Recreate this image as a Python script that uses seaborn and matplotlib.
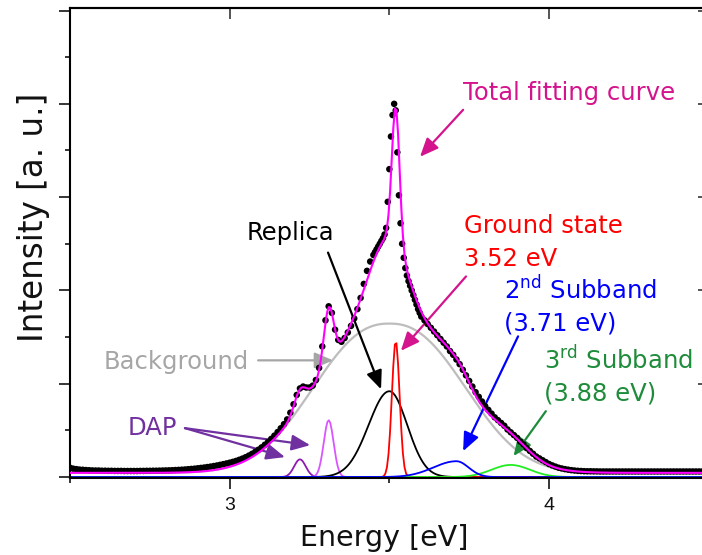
import numpy as np
import pandas as pd
import matplotlib
matplotlib.use("Agg")
import matplotlib.pyplot as plt
from matplotlib.ticker import MultipleLocator, NullFormatter
import seaborn as sns

# ---- measured PL spectrum -------------------------------------------------
data_energy = np.round(np.concatenate([np.arange(2.50, 3.4501, 0.01),
                                       np.arange(3.455, 3.6001, 0.005),
                                       np.arange(3.61, 4.5001, 0.01)]), 3)

data_intensity = [
    # 2.50 - 2.59
    0.100, 0.090, 0.085, 0.080, 0.078, 0.075, 0.073, 0.071, 0.070, 0.070,
    # 2.60 - 2.69
    0.068, 0.068, 0.067, 0.067, 0.066, 0.066, 0.066, 0.065, 0.065, 0.065,
    # 2.70 - 2.79
    0.065, 0.065, 0.066, 0.066, 0.067, 0.067, 0.068, 0.068, 0.069, 0.070,
    # 2.80 - 2.89
    0.071, 0.072, 0.073, 0.075, 0.077, 0.079, 0.081, 0.084, 0.087, 0.090,
    # 2.90 - 2.99
    0.094, 0.098, 0.102, 0.107, 0.112, 0.118, 0.124, 0.131, 0.138, 0.146,
    # 3.00 - 3.09
    0.154, 0.163, 0.173, 0.185, 0.198, 0.213, 0.230, 0.249, 0.270, 0.293,
    # 3.10 - 3.19
    0.318, 0.346, 0.376, 0.409, 0.444, 0.482, 0.523, 0.567, 0.618, 0.690,
    # 3.20 - 3.29
    0.78, 0.88, 0.95, 0.97, 0.96, 0.96, 0.98, 1.04, 1.17, 1.40,
    # 3.30 - 3.39
    1.68, 1.83, 1.76, 1.58, 1.47, 1.45, 1.49, 1.55, 1.62, 1.70,
    # 3.40 - 3.45
    1.80, 1.92, 2.07, 2.21, 2.31, 2.38,
    # 3.455 - 3.500
    2.41, 2.44, 2.47, 2.50, 2.53, 2.56, 2.60, 2.67, 2.95, 3.30,
    # 3.505 - 3.550
    3.65, 3.88, 4.00, 3.93, 3.48, 3.02, 2.72, 2.50, 2.35, 2.24,
    # 3.555 - 3.600
    2.16, 2.10, 2.05, 2.00, 1.95, 1.90, 1.85, 1.80, 1.76, 1.72,
    # 3.61 - 3.70
    1.68, 1.64, 1.60, 1.56, 1.52, 1.48, 1.44, 1.40, 1.35, 1.31,
    # 3.71 - 3.80
    1.26, 1.21, 1.15, 1.09, 1.03, 0.97, 0.91, 0.86, 0.81, 0.76,
    # 3.81 - 3.90
    0.72, 0.68, 0.64, 0.61, 0.58, 0.55, 0.51, 0.48, 0.45, 0.42,
    # 3.91 - 4.00
    0.38, 0.35, 0.31, 0.28, 0.25, 0.22, 0.20, 0.18, 0.16, 0.14,
    # 4.01 - 4.10
    0.125, 0.112, 0.100, 0.092, 0.085, 0.079, 0.074, 0.070, 0.067, 0.065,
    # 4.11 - 4.20
    0.063, 0.062, 0.062, 0.061, 0.061, 0.060, 0.060, 0.060, 0.060, 0.060,
    # 4.21 - 4.30
    0.060, 0.060, 0.060, 0.060, 0.060, 0.060, 0.060, 0.060, 0.060, 0.060,
    # 4.31 - 4.40
    0.060, 0.060, 0.060, 0.060, 0.060, 0.060, 0.060, 0.060, 0.060, 0.060,
    # 4.41 - 4.50
    0.060, 0.060, 0.060, 0.060, 0.060, 0.060, 0.060, 0.060, 0.060, 0.060,
]

# ---- fit model: flat-topped background + gaussian peaks -------------------
bg_offset = 0.045
bg_center = 3.50
bg_height = 1.60
bg_width = 0.305
bg_power = 2.35

peak_names = ["DAP 1", "DAP 2", "Replica", "Ground state", "3rd Subband", "2nd Subband"]
peak_centers = [3.22, 3.31, 3.50, 3.52, 3.88, 3.71]
peak_heights = [0.19, 0.61, 0.92, 1.46, 0.13, 0.17]
peak_sigma_low = [0.018, 0.0155, 0.065, 0.012, 0.060, 0.072]
peak_sigma_high = [0.018, 0.0155, 0.056, 0.012, 0.060, 0.038]
peak_colors = ["#8E1BB0", "#DA55FF", "#000000", "#FF0000", "#22EE22", "#0000FF"]

# fit curves are evaluated on the spectrometer's 0.5 nm wavelength grid
fit_energy = 1239.84 / np.arange(496.0, 275.0, -0.5)


def background(e):
    e = np.asarray(e)
    return bg_offset + bg_height * np.exp(-(np.abs(e - bg_center) / bg_width) ** bg_power)


def peak(e, i):
    e = np.asarray(e)
    s = np.where(e < peak_centers[i], peak_sigma_low[i], peak_sigma_high[i])
    return peak_heights[i] * np.exp(-0.5 * ((e - peak_centers[i]) / s) ** 2)


def total(e):
    return background(e) + sum(peak(e, i) for i in range(len(peak_centers)))


measured = pd.DataFrame({"energy": data_energy, "intensity": data_intensity})

sns.set_theme(style="ticks")
plt.rcParams["font.family"] = ["DejaVu Sans"]
plt.rcParams["xtick.labelsize"] = 14

fig = plt.figure(figsize=(7.02, 5.55), dpi=100)
ax = fig.add_axes([70 / 702, 77 / 555, 638.7 / 702, 470 / 555])

sns.lineplot(x=fit_energy, y=background(fit_energy), ax=ax, color="#BDBDBD", lw=1.6,
             sort=False, estimator=None)
for i in range(len(peak_centers)):
    sns.lineplot(x=fit_energy, y=peak(fit_energy, i), ax=ax, color=peak_colors[i], lw=1.3,
                 sort=False, estimator=None)
sns.scatterplot(data=measured, x="energy", y="intensity", ax=ax, color="black", s=22,
                edgecolor="none", zorder=4)
sns.lineplot(x=fit_energy, y=total(fit_energy), ax=ax, color="#FF00FF", lw=1.5,
             sort=False, estimator=None, zorder=5)

ax.set_xlim(2.5, 4.5)
ax.set_ylim(-0.01, 5.027)
ax.xaxis.set_major_locator(MultipleLocator(1))
ax.xaxis.set_minor_locator(MultipleLocator(0.5))
ax.yaxis.set_major_locator(MultipleLocator(1))
ax.yaxis.set_minor_locator(MultipleLocator(0.5))
ax.yaxis.set_major_formatter(NullFormatter())
ax.tick_params(which="major", direction="out", length=8, width=1.1, color="black")
ax.tick_params(which="minor", direction="out", length=3.5, width=1.1, color="black")
ax.tick_params(axis="x", which="major", labelsize=14, pad=6, labelcolor="#111111",
               labelfontfamily="Liberation Sans")
for sp in ax.spines.values():
    sp.set_linewidth(1.5)
    sp.set_color("black")
    sp.set_visible(True)

secx = ax.secondary_xaxis("top")
secx.xaxis.set_major_locator(MultipleLocator(1))
secx.xaxis.set_minor_locator(MultipleLocator(0.5))
secx.tick_params(which="both", direction="in", labeltop=False, width=1.1)
secx.tick_params(which="major", length=8)
secx.tick_params(which="minor", length=5)
secx.spines["top"].set_linewidth(1.5)
secy = ax.secondary_yaxis("right")
secy.yaxis.set_major_locator(MultipleLocator(1))
secy.yaxis.set_minor_locator(MultipleLocator(0.5))
secy.tick_params(which="both", direction="in", labelright=False, width=1.1)
secy.tick_params(which="major", length=8)
secy.tick_params(which="minor", length=3.5)

ax.set_xlabel("Energy [eV]", fontsize=20.5, color="#111111")
ax.set_ylabel("Intensity [a. u.]", fontsize=23.5, color="#111111")
ax.xaxis.set_label_coords(0.4924, -0.098)
ax.yaxis.set_label_coords(-0.032, 0.554)

pink = "#D4148C"
purple = "#7030A0"
grey_txt = "#A6A6A6"
green_txt = "#1E8C3A"
fs = 17.5


def arrow(tail, head, color):
    ax.annotate("", xy=head, xytext=tail,
                arrowprops=dict(arrowstyle="-|>,head_length=0.7,head_width=0.3",
                                color=color, lw=1.6, shrinkA=0, shrinkB=0,
                                mutation_scale=16))


ax.text(3.731, 4.043, "Total fitting curve", color=pink, fontsize=fs, va="baseline")
arrow((3.731, 3.936), (3.596, 3.433), pink)

ax.text(3.054, 2.545, "Replica", color="black", fontsize=fs, va="baseline")
arrow((3.308, 2.406), (3.474, 0.941), "black")

ax.text(3.734, 2.62, "Ground state", color="#FF0000", fontsize=fs, va="baseline")
ax.text(3.734, 2.267, "3.52 eV", color="#FF0000", fontsize=fs, va="baseline")
arrow((3.74, 2.15), (3.536, 1.353), pink)

ax.text(3.859, 1.91, r"2$^{\mathregular{nd}}$ Subband", color="#0000FF", fontsize=fs, va="baseline")
ax.text(3.859, 1.57, "(3.71 eV)", color="#0000FF", fontsize=fs, va="baseline")
arrow((3.903, 1.508), (3.731, 0.278), "#0000FF")

ax.text(3.984, 1.15, r"3$^{\mathregular{rd}}$ Subband", color=green_txt, fontsize=fs, va="baseline")
ax.text(3.984, 0.82, "(3.88 eV)", color=green_txt, fontsize=fs, va="baseline")
arrow((3.99, 0.706), (3.889, 0.225), green_txt)

ax.text(2.606, 1.155, "Background", color=grey_txt, fontsize=fs, va="baseline")
arrow((3.089, 1.251), (3.324, 1.251), grey_txt)

ax.text(2.682, 0.449, "DAP", color=purple, fontsize=fs, va="baseline")
arrow((2.860, 0.524), (3.252, 0.342), purple)
arrow((2.860, 0.524), (3.173, 0.214), purple)

fig.savefig("out.png", dpi=100)
